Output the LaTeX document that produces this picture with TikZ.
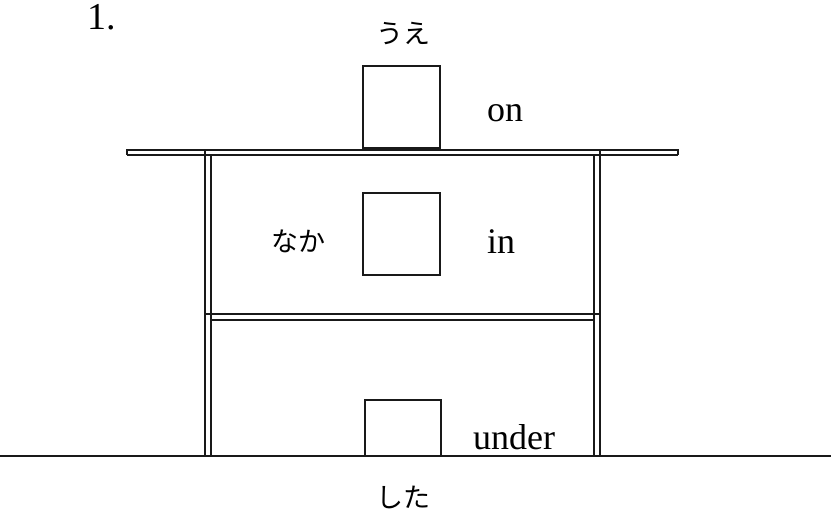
\documentclass[tikz,border=0pt]{standalone}
\usepackage{fontspec}
\setmainfont{Liberation Serif}
\newfontfamily\jpfont{Noto Sans CJK JP}
\begin{document}
\begin{tikzpicture}[x=1pt,y=-1pt,
  wall/.style={line width=1.8pt, black!90},
  boxobj/.style={draw, line width=1.5pt, black!90, minimum width=77pt, inner sep=0pt},
  lab/.style={font=\fontsize{36}{40}\selectfont, inner sep=0pt},
  jlab/.style={font=\jpfont\fontsize{27}{30}\selectfont, inner sep=0pt}]
\useasboundingbox (0,0) rectangle (831,524);
% number
\node[font=\fontsize{38}{40}\selectfont, inner sep=0pt] (num) at (102,17) {1.};
% roof
\draw[wall] (127,150) -- (678,150);
\draw[wall] (127,155) -- (678,155);
\draw[wall] (127,149.5) -- (127,155.5);
\draw[wall] (678,149.5) -- (678,155.5);
% walls
\draw[wall] (205,150) -- (205,456);
\draw[wall] (211,155) -- (211,456);
\draw[wall] (594,155) -- (594,456);
\draw[wall] (600,150) -- (600,456);
% middle floor
\draw[wall] (205,314) -- (600,314);
\draw[wall] (211,320) -- (594,320);
% ground
\coordinate (gl) at (0,456);
\coordinate (gr) at (831,456);
\draw[line width=1.4pt, black!90] (gl) -- (gr);
% boxes
\node[boxobj, minimum height=82pt] (on) at (401.5,107) {};
\node[boxobj, minimum height=82pt] (in) at (401.5,234) {};
\node[boxobj, minimum height=56pt, minimum width=76pt] (under) at (403,428) {};
% labels
\node[jlab] (ue) at (403,33) {うえ};
\node[lab] (onlab) at (505,113) {on};
\node[jlab] (naka) at (298,241) {なか};
\node[lab] (inlab) at (501,242) {in};
\node[lab] (underlab) at (514,437) {under};
\node[jlab] (shita) at (403,497) {した};
\end{tikzpicture}
\end{document}
